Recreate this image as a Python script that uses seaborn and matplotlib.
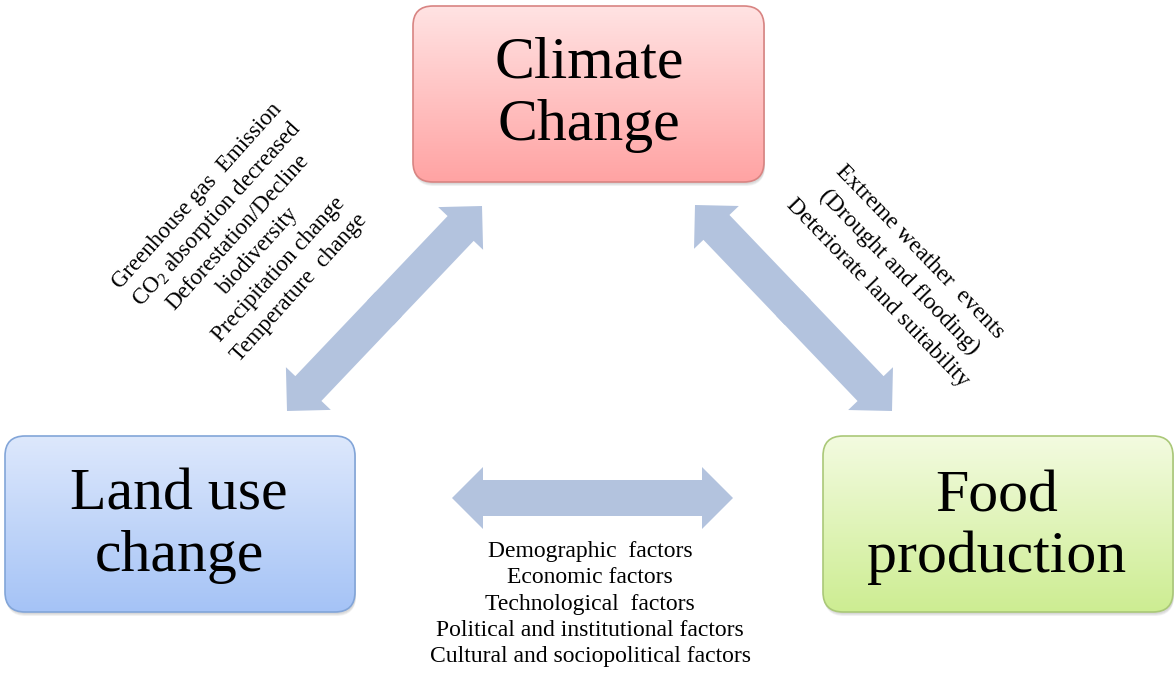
import numpy as np
import matplotlib.pyplot as plt
import seaborn as sns
from matplotlib.patches import FancyBboxPatch, FancyArrow

# Contenido del diagrama
box_lines = [["Climate", "Change"], ["Land use", "change"], ["Food", "production"]]
box_top_colors = ["#FFE3E3", "#DDE8FC", "#F3FBE0"]
box_bottom_colors = ["#FFA3A3", "#A5C3F6", "#CDED92"]
box_edge_colors = ["#D88482", "#82A5D8", "#AAC878"]

land_climate_drivers = ["Greenhouse gas  Emission",
                        r"CO$_{\mathregular{2}}$ absorption decreased",
                        "Deforestation/Decline", "biodiversity",
                        "Precipitation change", "Temperature  change"]
climate_food_impacts = ["Extreme weather  events", "(Drought and flooding)",
                        "Deteriorate land suitability"]
land_food_factors = ["Demographic  factors", "Economic factors",
                     "Technological  factors",
                     "Political and institutional factors",
                     "Cultural and sociopolitical factors"]

arrow_color = "#B3C3DE"

# Geometria en pixeles (eje y hacia abajo)
W, H = 1175, 673
box_extents = [(413, 6, 764, 182), (5, 436, 355, 612), (823, 436, 1173, 612)]
box_baselines = [(77, 140), (510, 571), (511, 572)]
box_centers_x = [589, 179, 997]
arrow_tips = [((482, 206), (287, 411)), ((695, 205), (892, 411)),
              ((452, 498), (733, 498))]

sns.set_theme(style="white")
plt.rcParams['font.family'] = ['Liberation Serif', 'DejaVu Serif']
plt.rcParams['mathtext.fontset'] = 'custom'
plt.rcParams['mathtext.rm'] = 'Liberation Serif'

fig = plt.figure(figsize=(W / 100, H / 100), dpi=100)
ax = fig.add_axes([0, 0, 1, 1])
ax.set_axis_off()

# Cajas con degradado y sombra
for (x0, y0, x1, y1), top, bottom, edge, lines, bls, cx in zip(
        box_extents, box_top_colors, box_bottom_colors, box_edge_colors,
        box_lines, box_baselines, box_centers_x):
    for k in range(3):
        sh = FancyBboxPatch((x0 + 1, y0 + 2 + k), x1 - x0, y1 - y0,
                            boxstyle="round,pad=0,rounding_size=20",
                            fc="#777777", ec="none", alpha=0.10, zorder=1)
        ax.add_patch(sh)
    patch = FancyBboxPatch((x0, y0), x1 - x0, y1 - y0,
                           boxstyle="round,pad=0,rounding_size=20",
                           fc="none", ec=edge, lw=1.2, zorder=3)
    ax.add_patch(patch)
    cmap = sns.blend_palette([top, bottom], n_colors=256, as_cmap=True)
    grad = np.linspace(0, 1, 256).reshape(-1, 1)
    im = ax.imshow(grad, cmap=cmap, extent=(x0, x1, y1, y0), aspect='auto',
                   zorder=2)
    im.set_clip_path(patch)
    for line, bl in zip(lines, bls):
        ax.text(cx, bl, line, ha='center', va='baseline', fontsize=43,
                color='black', zorder=4)

# Flechas dobles (dos mitades que se solapan en el centro)
for (p, q) in arrow_tips:
    mx, my = (p[0] + q[0]) / 2, (p[1] + q[1]) / 2
    for tx, ty in (p, q):
        ux, uy = tx - mx, ty - my
        norm = np.hypot(ux, uy)
        sx, sy = mx - 6 * ux / norm, my - 6 * uy / norm
        ax.add_patch(FancyArrow(sx, sy, tx - sx, ty - sy, width=36,
                                head_width=62, head_length=31,
                                length_includes_head=True, fc=arrow_color,
                                ec='none', lw=0, zorder=2))

# Textos girados
def rotated_block(lines, center, angle, spacing, size):
    th = np.deg2rad(angle)
    # direccion perpendicular (siguiente linea), en pantalla con y hacia abajo
    px, py = np.sin(th), np.cos(th)
    n = len(lines)
    for i, line in enumerate(lines):
        off = (i - (n - 1) / 2) * spacing
        ax.text(center[0] + off * px, center[1] + off * py, line,
                rotation=angle, rotation_mode='anchor', ha='center',
                va='center', fontsize=size, color='black', zorder=4)

rotated_block(land_climate_drivers, (248, 242), 48, 27.5, 16.5)
rotated_block(climate_food_impacts, (899, 272), -46, 29.5, 17)

for i, line in enumerate(land_food_factors):
    ax.text(590, 557 + 26.3 * i, line, ha='center', va='baseline',
            fontsize=17, color='black', zorder=4)

ax.set_xlim(0, W)
ax.set_ylim(H, 0)

fig.savefig("out.png", dpi=100, facecolor='white')
